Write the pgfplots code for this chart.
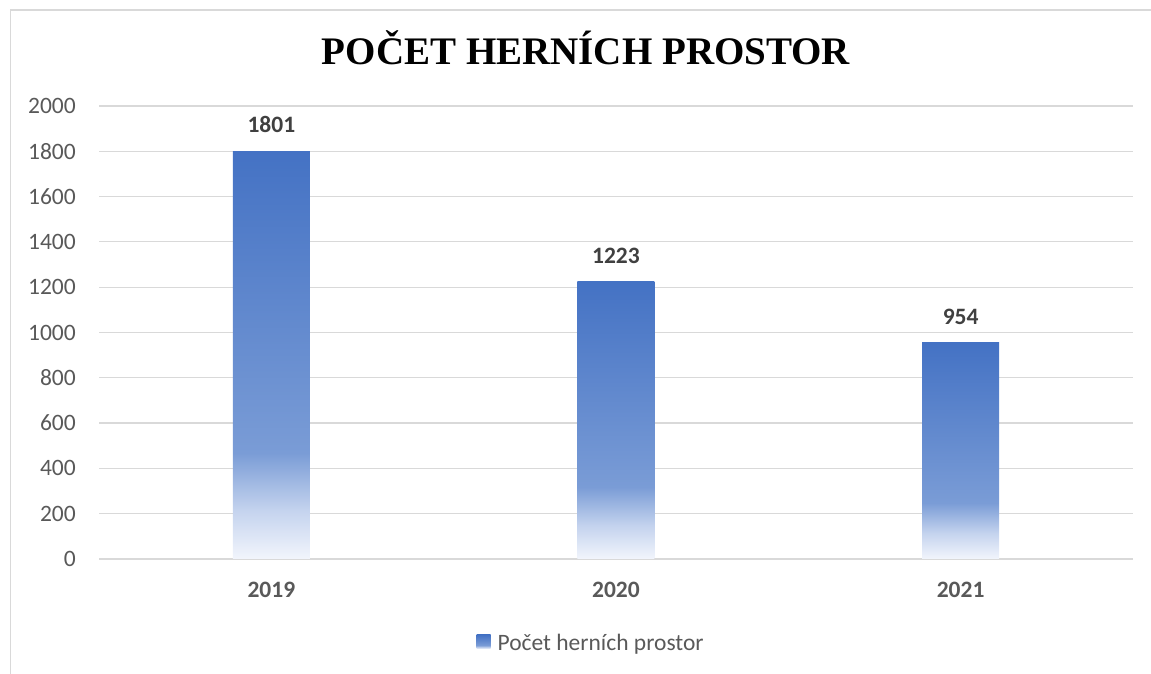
\documentclass[border=0pt]{standalone}
\usepackage{fontspec}
\setmainfont{Carlito}
\newfontfamily\titlefont{Liberation Serif}
\usepackage{pgfplots}
\pgfplotsset{compat=1.18}
\definecolor{barTop}{RGB}{68,114,196}
\definecolor{barMid}{RGB}{122,156,214}
\definecolor{barLow}{RGB}{196,211,238}
\definecolor{barBot}{RGB}{242,245,252}
\definecolor{gridC}{RGB}{217,217,217}
\definecolor{frameC}{RGB}{217,217,217}
\definecolor{labC}{RGB}{89,89,89}
\definecolor{dataC}{RGB}{64,64,64}
\pgfdeclareverticalshading{barshade}{100bp}{color(0bp)=(barBot); color(25bp)=(barBot); color(31bp)=(barLow); color(38bp)=(barMid); color(75bp)=(barTop); color(100bp)=(barTop)}
\begin{document}
\begin{tikzpicture}
\useasboundingbox (0,0) rectangle (1151bp,674bp);
\draw[color=frameC, line width=1.2bp] (10.7bp,0) -- (10.7bp,664bp) -- (1151bp,664bp);
\node[font=\titlefont\bfseries\fontsize{39bp}{44bp}\selectfont, anchor=base, inner sep=0pt] at (586bp,609bp) {POČET HERNÍCH PROSTOR};
\begin{axis}[
  at={(99bp,115bp)}, anchor=south west,
  scale only axis, width=1034bp, height=453bp,
  xmin=-0.5, xmax=2.5, ymin=0, ymax=2000,
  xtick={0,1,2}, xticklabels={2019,2020,2021},
  ytick={0,200,...,2000},
  ymajorgrids, grid style={color=gridC, line width=1.2bp},
  axis line style={draw=none},
  major tick length=0pt,
  /pgf/number format/1000 sep={},
  /pgf/number format/assume math mode=true,
  yticklabel style={font=\fontsize{23.5bp}{28bp}\selectfont, text=labC, inner sep=0pt, anchor=east, xshift=-23bp},
  xticklabel style={font=\bfseries\fontsize{23.5bp}{28bp}\selectfont, text=labC, inner sep=0pt, anchor=north, yshift=-23bp},
  legend style={draw=none, fill=none, at={(0.476,-0.1854)}, anchor=center, font=\fontsize{23.5bp}{28bp}\selectfont, text=labC},
  legend cell align=left,
  barstyle/.style={ybar, bar width=77bp, bar shift=0pt, draw=none, shading=barshade,
    nodes near coords,
    every node near coord/.append style={font=\bfseries\fontsize{23.5bp}{28bp}\selectfont, text=dataC, inner sep=0pt, anchor=south, yshift=18bp}},
]
\addplot[barstyle,
  legend image code/.code={\path (0bp,0bp) -- (19bp,0bp); \shade[shading=barshade] (0bp,-6bp) rectangle (14bp,8bp);}]
  coordinates {(0,1801)};
\addlegendentry{Počet herních prostor}
\addplot[barstyle, forget plot] coordinates {(1,1223)};
\addplot[barstyle, forget plot] coordinates {(2,954)};
\end{axis}
\end{tikzpicture}
\end{document}
